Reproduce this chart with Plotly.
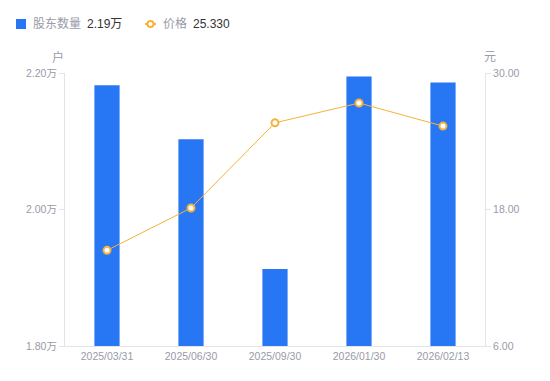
import plotly.graph_objects as go

dates = ["2025/03/31", "2025/06/30", "2025/09/30", "2026/01/30", "2026/02/13"]
holders = [2.182, 2.103, 1.913, 2.195, 2.186]   # 万户
price = [14.41, 18.13, 25.62, 27.36, 25.33]     # 元

left_ticks = [1.80, 2.00, 2.20]
left_text = ["1.80万", "2.00万", "2.20万"]
right_ticks = [6.0, 18.0, 30.0]
right_text = ["6.00", "18.00", "30.00"]

BLUE = "#2777F4"
ORANGE = "#F7B23B"
GRAY = "#9a9aa8"
AXIS = "#e3e3e8"
FONT = "Liberation Sans, Noto Sans CJK SC, sans-serif"

fig = go.Figure()
fig.add_trace(go.Bar(x=dates, y=holders, marker=dict(color=BLUE, line=dict(width=0)),
                     width=0.3, yaxis="y", showlegend=False))
fig.add_trace(go.Scatter(x=dates, y=price, mode="lines+markers", yaxis="y2",
                         line=dict(color=ORANGE, width=1),
                         marker=dict(symbol="circle", size=7, color="white",
                                     line=dict(color=ORANGE, width=2)),
                         showlegend=False))

fig.update_layout(
    width=542, height=373,
    margin=dict(l=57, r=65, t=65, b=35),
    paper_bgcolor="white", plot_bgcolor="white",
    font=dict(family=FONT, size=11, color=GRAY),
    xaxis=dict(showgrid=False, showline=True, linecolor=AXIS, linewidth=1,
               ticks="", tickfont=dict(size=10.5, color=GRAY), zeroline=False),
    yaxis=dict(range=[1.80, 2.20], tickvals=left_ticks, ticktext=left_text,
               showgrid=False, showline=True, linecolor=AXIS, linewidth=1,
               ticks="outside", ticklen=5, tickcolor=AXIS, zeroline=False,
               tickfont=dict(size=10.5, color=GRAY)),
    yaxis2=dict(range=[6, 30], tickvals=right_ticks, ticktext=right_text,
                overlaying="y", side="right", showgrid=False, showline=True,
                linecolor=AXIS, linewidth=1, ticks="outside", ticklen=5,
                tickcolor=AXIS, zeroline=False, tickfont=dict(size=10.5, color=GRAY)),
    showlegend=False,
)

# axis unit labels
fig.add_annotation(text="户", xref="paper", yref="paper", x=-0.017, y=1.0, yshift=16,
                   yanchor="middle", showarrow=False, font=dict(size=12, color=GRAY),
                   xanchor="center")
fig.add_annotation(text="元", xref="paper", yref="paper", x=1.012, y=1.0, yshift=16,
                   yanchor="middle", showarrow=False, font=dict(size=12, color=GRAY),
                   xanchor="center")

# legend (custom), positions in window pixels converted to paper coords
def px(xp):
    return (xp - 65) / 420.0
def py(yp):
    return (346 - yp) / 273.0

fig.add_shape(type="rect", xref="paper", yref="paper",
              x0=px(16), x1=px(26), y0=py(29), y1=py(19),
              fillcolor=BLUE, line=dict(width=0))
fig.add_annotation(text="股东数量", xref="paper", yref="paper", x=px(31), y=py(24),
                   xanchor="left", yanchor="middle", showarrow=False,
                   font=dict(size=12, color=GRAY))
fig.add_annotation(text="2.19万", xref="paper", yref="paper", x=px(85), y=py(24),
                   xanchor="left", yanchor="middle", showarrow=False,
                   font=dict(size=12, color="#333333"))
fig.add_shape(type="line", xref="paper", yref="paper",
              x0=px(145), x1=px(156), y0=py(24), y1=py(24),
              line=dict(color=ORANGE, width=2))
fig.add_shape(type="circle", xref="paper", yref="paper",
              x0=px(147.5), x1=px(153.5), y0=py(27), y1=py(21),
              fillcolor="white", line=dict(color=ORANGE, width=2))
fig.add_annotation(text="价格", xref="paper", yref="paper", x=px(161), y=py(24),
                   xanchor="left", yanchor="middle", showarrow=False,
                   font=dict(size=12, color=GRAY))
fig.add_annotation(text="25.330", xref="paper", yref="paper", x=px(191), y=py(24),
                   xanchor="left", yanchor="middle", showarrow=False,
                   font=dict(size=12, color="#333333"))

fig.write_html("out.html")
